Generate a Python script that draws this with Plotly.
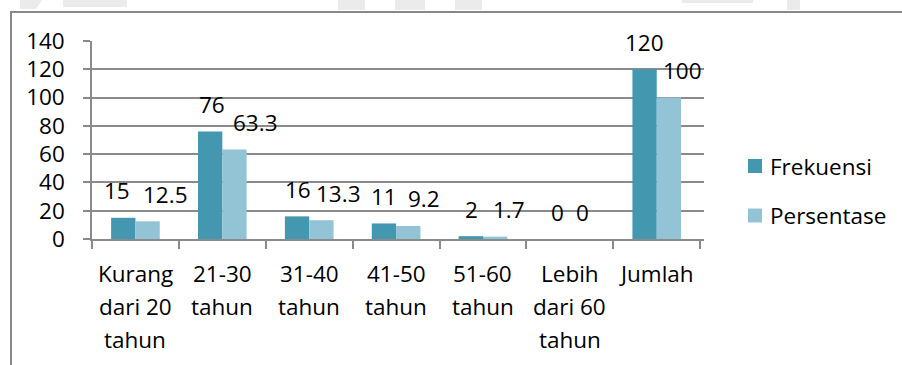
import plotly.graph_objects as go

# ---- data ----
categories = ["Kurang<br>dari 20<br>tahun", "21-30<br>tahun", "31-40<br>tahun",
              "41-50<br>tahun", "51-60<br>tahun", "Lebih<br>dari 60<br>tahun", "Jumlah"]
frekuensi = [15, 76, 16, 11, 2, 0, 120]
persentase = [12.5, 63.3, 13.3, 9.2, 1.7, 0, 100]
series_names = ["Frekuensi", "Persentase"]
y_ticks = [0, 20, 40, 60, 80, 100, 120, 140]

# ---- style ----
W, H = 902, 365
ML, MR, MT, MB = 92, 198, 41, 126
FONT = "Open Sans"
FS = 22.5
C_FREQ = "#4398B0"
C_PCT = "#93C4D6"
GRID = "#8a8a8a"
# horizontal nudges (px) for the value labels of each series
nudge_freq = [-6.5, 1.5, 1, 0, 1, 0, 0]
nudge_pct = [17.5, 20.5, 17, 15.5, 13.5, 0, 13.5]
HALF_BAR = 12.25

PW = W - ML - MR
PH = H - MT - MB


def px_x(px):
    return (px - ML) / PW


def px_y(py):
    return (H - MB - py) / PH


fig = go.Figure()
fig.add_trace(go.Bar(x=categories, y=frekuensi, name=series_names[0],
                     marker=dict(color=C_FREQ, line=dict(width=0))))
fig.add_trace(go.Bar(x=categories, y=persentase, name=series_names[1],
                     marker=dict(color=C_PCT, line=dict(width=0))))

annotations = []
# value labels above the bars
for vals, sign, nudges in ((frekuensi, -1, nudge_freq), (persentase, 1, nudge_pct)):
    for cat, v, n in zip(categories, vals, nudges):
        annotations.append(dict(
            x=cat, y=v, xref="x", yref="y", text=f"{v:g}", showarrow=False,
            xshift=sign * HALF_BAR + n, yshift=27, yanchor="middle",
            font=dict(family=FONT, size=FS, color="#000000")))

# category labels, one line at a time with wide line spacing
for cat in categories:
    for i, line in enumerate(cat.split("<br>")):
        annotations.append(dict(
            x=cat, y=0, xref="x", yref="y", text=line, showarrow=False,
            yshift=-34 - 33 * i, yanchor="middle",
            font=dict(family=FONT, size=FS, color="#000000")))

shapes = []
# legend
legend_rows = [(series_names[0], C_FREQ, 166), (series_names[1], C_PCT, 215.5)]
for name, col, cy in legend_rows:
    shapes.append(dict(type="rect", xref="paper", yref="paper",
                       x0=px_x(748), x1=px_x(762), y0=px_y(cy - 7), y1=px_y(cy + 7),
                       fillcolor=col, line=dict(width=0)))
    annotations.append(dict(x=px_x(768), y=px_y(cy), xref="paper", yref="paper",
                            text=name, showarrow=False, xanchor="left", yanchor="middle",
                            font=dict(family=FONT, size=FS, color="#000000")))

# chart frame
shapes.append(dict(type="rect", xref="paper", yref="paper",
                   x0=px_x(11), x1=px_x(W + 20), y0=px_y(H + 20), y1=px_y(12),
                   line=dict(color="#898989", width=2), fillcolor="rgba(0,0,0,0)",
                   layer="below"))

# faint background lettering along the top edge
wm = "#ebebeb"
for x0, x1, y1 in [(338, 365, 10), (395, 425, 10), (455, 482, 10),
                   (682, 753, 3), (787, 800, 10), (63, 127, 7)]:
    shapes.append(dict(type="rect", xref="paper", yref="paper",
                       x0=px_x(x0), x1=px_x(x1), y0=px_y(y1), y1=px_y(0),
                       fillcolor=wm, line=dict(width=0), layer="below"))
shapes.append(dict(type="path", xref="paper", yref="paper",
                   path=(f"M {px_x(20)},{px_y(0)} L {px_x(42)},{px_y(0)} "
                         f"L {px_x(36)},{px_y(9)} L {px_x(20)},{px_y(9)} Z"),
                   fillcolor=wm, line=dict(width=0), layer="below"))

fig.update_layout(
    width=W, height=H,
    margin=dict(l=ML, r=MR, t=MT, b=MB, pad=0),
    paper_bgcolor="#ffffff", plot_bgcolor="#ffffff",
    barmode="group", bargap=0.44, bargroupgap=0,
    showlegend=False,
    font=dict(family=FONT, size=FS, color="#000000"),
    annotations=annotations, shapes=shapes,
    xaxis=dict(type="category", showticklabels=False, showgrid=False,
               showline=True, linecolor=GRID, linewidth=1.5,
               ticks="outside", tickson="boundaries", ticklen=8,
               tickcolor=GRID, tickwidth=1.5, fixedrange=True),
    yaxis=dict(range=[0, 140], tickvals=y_ticks, showgrid=True,
               gridcolor=GRID, gridwidth=1.5, zeroline=False,
               showline=True, linecolor=GRID, linewidth=1.5,
               ticks="outside", ticklen=7, tickcolor=GRID, tickwidth=1.5,
               ticklabelstandoff=14,
               tickfont=dict(family=FONT, size=FS, color="#000000"),
               fixedrange=True),
)

fig.write_html("out.html")
